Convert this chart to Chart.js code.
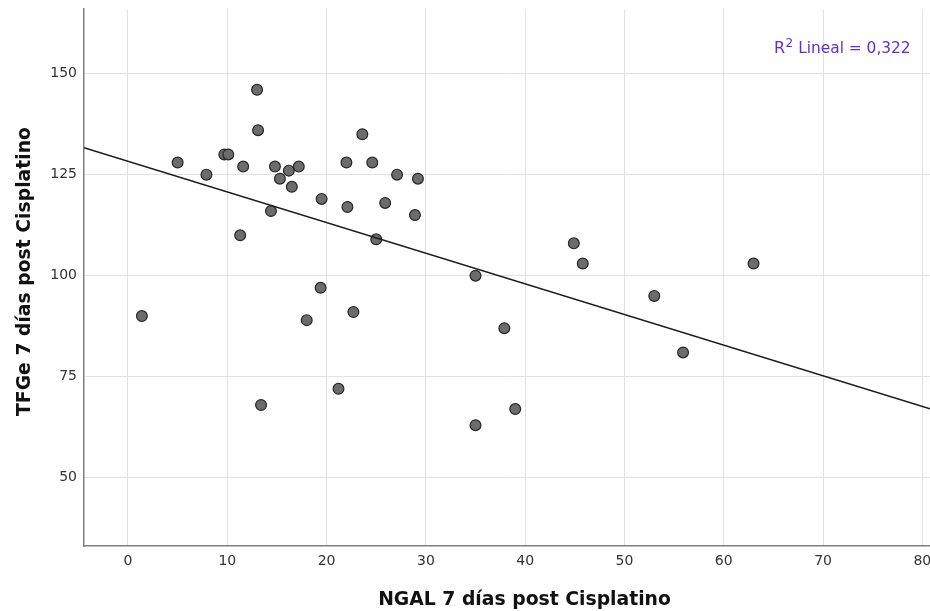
<!DOCTYPE html>
<html>
<head>
<meta charset="utf-8">
<script src="https://cdn.jsdelivr.net/npm/chart.js@4"></script>
<style>
  html, body { margin: 0; padding: 0; background: #ffffff; }
  canvas { display: block; }
</style>
</head>
<body>
<canvas id="c" width="930" height="611"></canvas>
<script>
// NGAL at day 7 after cisplatin (x) against eGFR at day 7 (y), one point per patient
const ngal = [1.4, 5.0, 7.9, 9.7, 10.1, 11.3, 11.6, 13.0, 13.1, 13.4,
              14.4, 14.8, 15.3, 16.2, 16.5, 17.2, 18.0, 19.5, 19.4, 21.2,
              22.0, 22.1, 22.7, 23.6, 24.6, 25.0, 25.9, 27.1, 28.9, 29.2,
              35.0, 35.0, 37.9, 39.0, 44.9, 45.8, 53.0, 55.9, 63.0];
const tfge = [90, 128, 125, 130, 130, 110, 127, 146, 136, 68,
              116, 127, 124, 126, 122, 127, 89, 119, 97, 72,
              128, 117, 91, 135, 128, 109, 118, 125, 115, 124,
              100, 63, 87, 67, 108, 103, 95, 81, 103];

const xTicks = [0, 10, 20, 30, 40, 50, 60, 70, 80];
const yTicks = [50, 75, 100, 125, 150];
const xRange = [-4.43, 80.77];
const yRange = [33.1, 166.0];

// linear fit
const fitIntercept = 128.34;
const fitSlope = -0.7585;
const r2Value = '0,322';

const xTitle = 'NGAL 7 días post Cisplatino';
const yTitle = 'TFGe 7 días post Cisplatino';

const points = ngal.map((x, i) => ({ x: x, y: tfge[i] }));
const fitLine = xRange.map(x => ({ x: x, y: fitIntercept + fitSlope * x }));

const tickFont = { family: 'DejaVu Sans', size: 14 };

// axis titles and the R² note
const annotations = {
  id: 'annotations',
  afterDraw(chart) {
    const ctx = chart.ctx;
    ctx.save();
    ctx.fillStyle = '#111111';
    ctx.font = 'bold 18.8px "DejaVu Sans"';
    ctx.textAlign = 'center';
    ctx.textBaseline = 'alphabetic';
    ctx.fillText(xTitle, 524.5, 605);

    ctx.translate(30, 271.5);
    ctx.rotate(-Math.PI / 2);
    ctx.fillText(yTitle, 0, 0);
    ctx.restore();

    ctx.save();
    ctx.fillStyle = '#5b30d8';
    ctx.textAlign = 'left';
    ctx.textBaseline = 'alphabetic';
    let x = 774;
    ctx.font = '16px "DejaVu Sans"';
    ctx.fillText('R', x, 53);
    x += ctx.measureText('R').width;
    ctx.font = '12px "DejaVu Sans"';
    ctx.fillText('2', x + 0.5, 47);
    x += ctx.measureText('2').width + 0.5;
    ctx.font = '15.4px "DejaVu Sans"';
    ctx.fillText(' Lineal = ' + r2Value, x, 53);
    ctx.restore();
  }
};

new Chart(document.getElementById('c'), {
  type: 'scatter',
  data: {
    datasets: [
      {
        label: 'Lineal',
        data: fitLine,
        showLine: true,
        borderColor: '#1a1a1a',
        borderWidth: 1.5,
        pointRadius: 0,
        fill: false,
        order: 0
      },
      {
        label: 'TFGe',
        data: points,
        pointRadius: 5.4,
        pointBackgroundColor: '#6c6c6c',
        pointBorderColor: '#262626',
        pointBorderWidth: 1.2,
        order: 1
      }
    ]
  },
  options: {
    responsive: false,
    animation: false,
    devicePixelRatio: 1,
    layout: { autoPadding: false, padding: { top: 9, right: 0, bottom: 0, left: 0 } },
    plugins: {
      legend: { display: false },
      tooltip: { enabled: false }
    },
    scales: {
      x: {
        type: 'linear',
        position: 'bottom',
        min: xRange[0],
        max: xRange[1],
        afterBuildTicks: s => { s.ticks = xTicks.map(v => ({ value: v })); },
        afterFit: s => { s.height = 65; s.paddingLeft = 0; s.paddingRight = 0; },
        ticks: { font: tickFont, color: '#333333', padding: 7, maxRotation: 0, autoSkip: false },
        grid: { color: '#e2e2e2', lineWidth: 1, drawTicks: false },
        border: { display: true, color: '#808080', width: 1.5 }
      },
      y: {
        type: 'linear',
        position: 'left',
        min: yRange[0],
        max: yRange[1],
        afterBuildTicks: s => { s.ticks = yTicks.map(v => ({ value: v })); },
        afterFit: s => { s.width = 84; s.paddingTop = 0; s.paddingBottom = 0; },
        ticks: { font: tickFont, color: '#333333', padding: 7, autoSkip: false },
        grid: { color: '#e2e2e2', lineWidth: 1, drawTicks: false },
        border: { display: true, color: '#808080', width: 1.5 }
      }
    }
  },
  plugins: [annotations]
});
</script>
</body>
</html>
